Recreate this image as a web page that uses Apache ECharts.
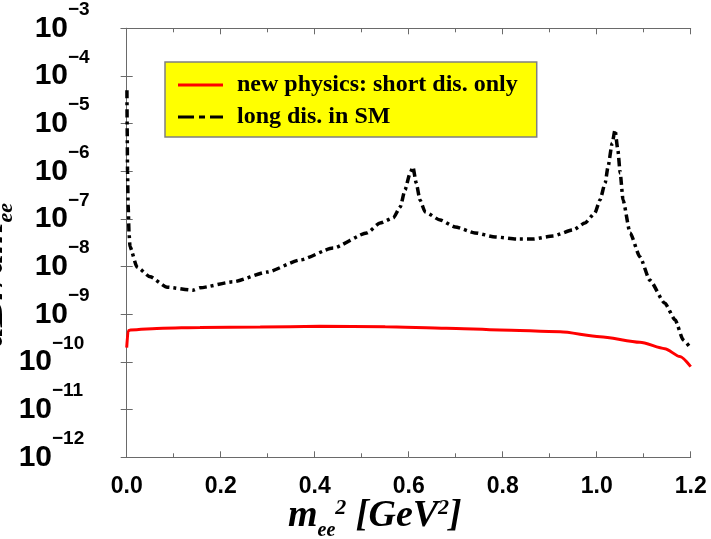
<!DOCTYPE html>
<html><head><meta charset="utf-8">
<script src="https://cdn.jsdelivr.net/npm/echarts@6/dist/echarts.min.js"></script>
<style>html,body{margin:0;padding:0;background:#fff}#c{width:711px;height:539px}</style>
</head><body><div id="c"></div>
<script>
// ---- data ----
const seriesNames = ['new physics: short dis. only', 'long dis. in SM'];

const shortDisX = [0.0, 0.003, 0.008, 0.077, 0.156, 0.284, 0.411, 0.55, 0.68, 0.794, 0.922, 1.007, 1.092, 1.145, 1.177, 1.2];
const shortDisY = [2.0e-10, 4.5e-10, 4.7e-10, 5.1e-10, 5.3e-10, 5.4e-10, 5.6e-10, 5.5e-10, 5.1e-10, 4.7e-10, 4.3e-10, 3.4e-10, 2.6e-10, 1.9e-10, 1.3e-10, 8.0e-11];

const longDisX = [0.0005, 0.001, 0.0018, 0.003, 0.005, 0.007, 0.022, 0.05, 0.086, 0.141, 0.156, 0.226, 0.299, 0.369, 0.439, 0.511, 0.539, 0.567, 0.582, 0.592, 0.603, 0.609, 0.616, 0.624, 0.635, 0.667, 0.699, 0.741, 0.784, 0.83, 0.865, 0.907, 0.95, 0.975, 0.996, 1.007, 1.018, 1.024, 1.033, 1.039, 1.045, 1.05, 1.056, 1.071, 1.092, 1.113, 1.145, 1.167, 1.184, 1.199];
const longDisY = [5.0e-5, 8e-6, 1e-6, 2e-7, 5e-8, 2.6e-8, 9.8e-9, 6.1e-9, 3.7e-9, 3.2e-9, 3.6e-9, 4.8e-9, 7.7e-9, 1.38e-8, 2.46e-8, 5.1e-8, 8.2e-8, 1.05e-7, 1.78e-7, 4.05e-7, 9.2e-7, 1.23e-6, 5.7e-7, 2.5e-7, 1.4e-7, 9.5e-8, 6.8e-8, 5.1e-8, 4.2e-8, 3.8e-8, 3.8e-8, 4.4e-8, 5.9e-8, 8.2e-8, 1.33e-7, 2.5e-7, 5.7e-7, 1.23e-6, 3.9e-6, 7.4e-6, 2.8e-6, 9.2e-7, 2.5e-7, 5.1e-8, 1.6e-8, 5.2e-9, 1.7e-9, 7.6e-10, 2.9e-10, 2.0e-10];

const xMin = 0, xMax = 1.2, xStep = 0.2;
const yMinExp = -12, yMaxExp = -3;

// ---- chart ----
const zip = (xs, ys) => xs.map((x, i) => [x, ys[i]]);
const chart = echarts.init(document.getElementById('c'), null, {renderer: 'canvas'});
const frame = '#6a6a6a';
const expOf = v => Math.round(Math.log10(v));

// "10" part of each y label (exponent drawn by a twin axis, raised)
const baseFmt = v => (expOf(v) <= -10 ? '{b2|10}' : '{b|10}');
const expFmt = v => {
  const e = expOf(v);
  return (e <= -10 ? '{e2|' : '{e|') + '\u2212' + (-e) + '}';
};

// legend glyphs: thin bar / dash-dot bar inside a 45x14 box
const iconSolid = 'path://M0,0h0.01v0.01h-0.01z M0,5.5h45v3h-45z M44.99,13.99h0.01v0.01h-0.01z';
const iconDash = 'path://M0,0h0.01v0.01h-0.01z M0,5.5h16v3h-16z M21,5.5h6v3h-6z M32,5.5h13v3h-13z M44.99,13.99h0.01v0.01h-0.01z';

const baseFont = {fontFamily: 'Liberation Sans', fontWeight: 'bold', fontSize: 30, color: '#000'};
const expFont = {fontFamily: 'Liberation Sans', fontWeight: 'bold', fontSize: 19, color: '#000'};
const yMin = Math.pow(10, yMinExp), yMax = Math.pow(10, yMaxExp);

const option = {
  animation: false,
  backgroundColor: '#ffffff',
  grid: [
    {left: 126.7, right: 20.3, top: 28.3, bottom: 81.7},
    {left: 126.7, right: 20.3, top: 9.8, bottom: 100.2}
  ],
  legend: {
    data: [{name: seriesNames[0], icon: iconSolid}, {name: seriesNames[1], icon: iconDash}],
    orient: 'vertical',
    left: 165, top: 62,
    backgroundColor: '#ffff00',
    borderColor: '#808080', borderWidth: 1.5,
    padding: [11, 19, 8, 13],
    itemGap: 8,
    itemWidth: 45, itemHeight: 14,
    textStyle: {fontFamily: 'Liberation Serif', fontWeight: 'bold', fontSize: 24, color: '#000', lineHeight: 24, padding: [0, 0, 0, 9]}
  },
  xAxis: [{
    type: 'value', gridIndex: 0, min: xMin, max: xMax, interval: xStep,
    axisLine: {show: true, lineStyle: {color: frame, width: 1}},
    axisTick: {show: true, inside: true, length: 6, lineStyle: {color: frame}},
    minorTick: {show: true, splitNumber: 2, length: 4, lineStyle: {color: frame}},
    splitLine: {show: false},
    axisLabel: {fontFamily: 'Liberation Sans', fontWeight: 'bold', fontSize: 23, color: '#000', margin: 18,
      formatter: v => v.toFixed(1)}
  }, {
    type: 'value', gridIndex: 0, position: 'top', min: xMin, max: xMax, interval: xStep,
    axisLine: {show: true, lineStyle: {color: frame, width: 1}},
    axisTick: {show: true, inside: true, length: 6, lineStyle: {color: frame}},
    minorTick: {show: true, splitNumber: 2, length: 4, lineStyle: {color: frame}},
    splitLine: {show: false}, axisLabel: {show: false}
  }, {
    type: 'value', gridIndex: 1, min: xMin, max: xMax, show: false
  }],
  yAxis: [{
    type: 'log', gridIndex: 0, logBase: 10, min: yMin, max: yMax, interval: 1, splitNumber: 9,
    axisLine: {show: true, lineStyle: {color: frame, width: 1}},
    axisTick: {show: true, inside: true, length: 6, lineStyle: {color: frame}},
    splitLine: {show: false},
    axisLabel: {
      margin: 58.7, formatter: baseFmt, showMinLabel: true, showMaxLabel: true,
      rich: {b: Object.assign({}, baseFont), b2: Object.assign({padding: [0, 16, 0, 0]}, baseFont)}
    }
  }, {
    type: 'log', gridIndex: 0, logBase: 10, position: 'right', min: yMin, max: yMax, interval: 1, splitNumber: 9,
    axisLine: {show: true, lineStyle: {color: frame, width: 1}},
    axisTick: {show: true, inside: true, length: 6, lineStyle: {color: frame}},
    splitLine: {show: false}, axisLabel: {show: false}
  }, {
    type: 'log', gridIndex: 1, logBase: 10, min: yMin, max: yMax, interval: 1, splitNumber: 9,
    axisLine: {show: false}, axisTick: {show: false}, splitLine: {show: false},
    axisLabel: {
      margin: 74.7, align: 'left', formatter: expFmt, showMinLabel: true, showMaxLabel: true,
      rich: {e: Object.assign({padding: [0, 0, 0, 16]}, expFont), e2: Object.assign({}, expFont)}
    }
  }],
  series: [{
    name: seriesNames[0], type: 'line', xAxisIndex: 0, yAxisIndex: 0, data: zip(shortDisX, shortDisY),
    symbol: 'none', smooth: 0.25, smoothMonotone: 'x',
    lineStyle: {color: '#ff0000', width: 3}, itemStyle: {color: '#ff0000'}
  }, {
    name: seriesNames[1], type: 'line', xAxisIndex: 0, yAxisIndex: 0, data: zip(longDisX, longDisY),
    symbol: 'none', smooth: 0.2, smoothMonotone: 'x',
    lineStyle: {color: '#000000', width: 3.5, type: [8, 4, 3, 4]}, itemStyle: {color: '#000000'}
  }],
  graphic: [{
    type: 'text', left: 288, top: 497,
    style: {
      text: '{m|m}{s|ee}{p|2}{t| [GeV}{p|2}{t|]}',
      rich: {
        m: {fontFamily: 'Liberation Serif', fontStyle: 'italic', fontWeight: 'bold', fontSize: 38, lineHeight: 44, verticalAlign: 'top', fill: '#000'},
        s: {fontFamily: 'Liberation Serif', fontStyle: 'italic', fontWeight: 'bold', fontSize: 20, lineHeight: 20, verticalAlign: 'bottom', fill: '#000'},
        p: {fontFamily: 'Liberation Serif', fontStyle: 'italic', fontWeight: 'bold', fontSize: 22, lineHeight: 22, verticalAlign: 'top', fill: '#000'},
        t: {fontFamily: 'Liberation Serif', fontStyle: 'italic', fontWeight: 'bold', fontSize: 38, lineHeight: 44, verticalAlign: 'top', fill: '#000'}
      }
    }
  }, {
    type: 'text', x: 17, y: 347, rotation: Math.PI / 2,
    style: {
      text: '{a|dBr/dm}{s|ee}',
      align: 'left', verticalAlign: 'bottom',
      rich: {
        a: {fontFamily: 'Liberation Serif', fontStyle: 'italic', fontWeight: 'bold', fontSize: 40, lineHeight: 40, padding: [0, 0, 10, 0], fill: '#000'},
        s: {fontFamily: 'Liberation Serif', fontStyle: 'italic', fontWeight: 'bold', fontSize: 22, lineHeight: 22, verticalAlign: 'bottom', fill: '#000'}
      }
    }
  }]
};
chart.setOption(option);
</script>
</body></html>
